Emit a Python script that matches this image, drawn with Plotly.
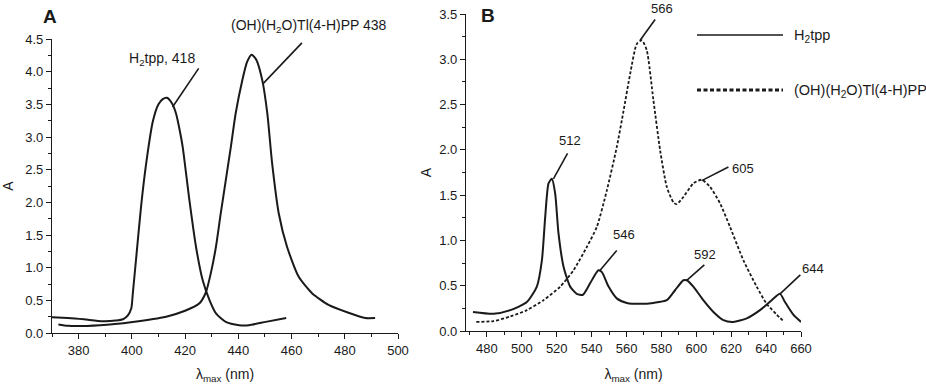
import plotly.graph_objects as go

# ---------------- data ----------------
# Panel A (Soret region)
a_h2tpp_nm = [370, 376, 382, 389, 394, 396.7, 398.5, 399.8, 400.4, 401.7, 403.5, 405.4, 407.9, 410.0,
              411.6, 413.2, 415.0, 416.6, 418.0, 419.1, 421.6, 424.1, 426.6, 429.1, 431.6, 435.3,
              440.3, 444, 450.3, 458]
a_h2tpp_abs = [0.24, 0.23, 0.21, 0.18, 0.19, 0.21, 0.27, 0.38, 0.62, 1.18, 1.95, 2.6, 3.24, 3.50,
               3.58, 3.60, 3.52, 3.36, 3.10, 2.85, 2.04, 1.32, 0.81, 0.51, 0.30, 0.17,
               0.12, 0.12, 0.17, 0.23]
a_tl_nm = [372.4, 376, 388, 400.3, 412.9, 420, 425.3, 427.8, 429.7, 431.6, 433.4, 435.3, 437.2,
           439.0, 441.5, 443.3, 445.0, 446.8, 449.0, 450.9, 452.7, 455.2, 458.3, 462.7, 467.7,
           473.9, 481.4, 487.7, 491.4]
a_tl_abs = [0.13, 0.11, 0.12, 0.17, 0.25, 0.34, 0.45, 0.62, 0.92, 1.32, 1.83, 2.34, 2.85,
            3.36, 3.87, 4.15, 4.26, 4.18, 3.87, 3.36, 2.6, 1.83, 1.32, 0.86, 0.61,
            0.43, 0.31, 0.23, 0.23]

# Panel B (Q-band region)
b_h2tpp_nm = [472, 483.8, 493.4, 502.9, 508.6, 511.5, 513.4, 515.3, 517.2, 519.1, 521, 523.9, 527.7,
              531.5, 535, 539.2, 543.9, 545.9, 549.7, 554.4, 560.2, 567.8, 575.4, 583.1, 587.8, 592.6,
              594.5, 598.3, 604, 609.8, 615.5, 621.2, 628.9, 636.5, 643.2, 648, 650.8, 655.6, 660]
b_h2tpp_abs = [0.21, 0.19, 0.23, 0.32, 0.49, 0.78, 1.26, 1.63, 1.68, 1.52, 1.08, 0.71, 0.49,
               0.41, 0.40, 0.53, 0.67, 0.65, 0.49, 0.36, 0.31, 0.30, 0.31, 0.34, 0.45, 0.56,
               0.56, 0.49, 0.34, 0.21, 0.12, 0.10, 0.14, 0.23, 0.34, 0.41, 0.32, 0.18, 0.10]
b_tl_nm = [473.9, 483.8, 493.4, 502.9, 512.4, 522, 529.6, 537.3, 543, 548.7, 554.4, 558.3, 562.1,
           565.9, 568.8, 571.6, 575.4, 579.3, 583.1, 586.9, 588.8, 592.6, 598.3, 603.1, 607.9,
           613.6, 619.3, 627, 634.6, 640.3, 646.1, 649.9]
b_tl_abs = [0.10, 0.11, 0.16, 0.23, 0.34, 0.49, 0.67, 0.93, 1.15, 1.55, 2.03, 2.43, 2.84,
            3.17, 3.21, 3.10, 2.55, 1.99, 1.59, 1.42, 1.40, 1.48, 1.63, 1.67, 1.59,
            1.41, 1.15, 0.78, 0.49, 0.30, 0.18, 0.11]

series_names = ["H<sub>2</sub>tpp", "(OH)(H<sub>2</sub>O)Tl(4-H)PP"]
a_labels = ["H<sub>2</sub>tpp, 418", "(OH)(H<sub>2</sub>O)Tl(4-H)PP 438"]
b_labels = ["512", "546", "566", "592", "605", "644"]

a_xticks = [380, 400, 420, 440, 460, 480, 500]
b_xticks = [480, 500, 520, 540, 560, 580, 600, 620, 640, 660]

# ---------------- layout geometry ----------------
FONT = "Liberation Sans, Arial, Helvetica, sans-serif"
INK = "#1a1a1a"
W, H = 926, 389

A_X = (52, 398, 370, 500)     # px left, px right, data min, data max
A_Y = (333, 39, 0, 4.5)       # px bottom, px top, data min, data max
B_X = (466, 801, 468, 660)
B_Y = (331, 14, 0, 3.5)


def px_x(p):
    return p / W


def px_y(p):
    return 1 - p / H


def to_px(v, ax):
    p0, p1, d0, d1 = ax
    return p0 + (v - d0) / (d1 - d0) * (p1 - p0)


fig = go.Figure()
line_solid = dict(color=INK, width=2, shape="spline", smoothing=0.6)
fig.add_trace(go.Scatter(x=a_h2tpp_nm, y=a_h2tpp_abs, mode="lines", line=line_solid,
                         xaxis="x", yaxis="y", showlegend=False, name="H2tpp"))
fig.add_trace(go.Scatter(x=a_tl_nm, y=a_tl_abs, mode="lines", line=line_solid,
                         xaxis="x", yaxis="y", showlegend=False, name="Tl"))
fig.add_trace(go.Scatter(x=b_h2tpp_nm, y=b_h2tpp_abs, mode="lines", line=line_solid,
                         xaxis="x2", yaxis="y2", showlegend=False, name="H2tpp"))
fig.add_trace(go.Scatter(x=b_tl_nm, y=b_tl_abs, mode="lines",
                         line=dict(color=INK, width=1.8, dash="3px,2px", shape="spline", smoothing=0.6),
                         xaxis="x2", yaxis="y2", showlegend=False, name="Tl"))

axis_common = dict(showgrid=False, zeroline=False, showline=True, linecolor=INK, linewidth=1.2,
                   ticks="outside", ticklen=5, tickwidth=1.2, tickcolor=INK, automargin=False,
                   tickfont=dict(family=FONT, size=13, color=INK),
                   minor=dict(ticks="outside", ticklen=3, tickwidth=1, tickcolor=INK))

fig.update_layout(
    width=W, height=H, margin=dict(l=0, r=0, t=0, b=0, autoexpand=False),
    paper_bgcolor="white", plot_bgcolor="white",
    font=dict(family=FONT, color=INK),
    xaxis=dict(axis_common, domain=[px_x(A_X[0]), px_x(A_X[1])], range=[A_X[2], A_X[3]],
               tickvals=a_xticks, minor=dict(axis_common["minor"], dtick=10, tick0=370),
               anchor="y", title=dict(text="λ<sub>max</sub> (nm)", font=dict(size=14), standoff=12)),
    yaxis=dict(axis_common, domain=[px_y(A_Y[0]), px_y(A_Y[1])], range=[A_Y[2], A_Y[3]], dtick=0.5,
               tickformat=".1f", minor=dict(axis_common["minor"], dtick=0.25), anchor="x",
               title=dict(text="A", font=dict(size=14), standoff=10)),
    xaxis2=dict(axis_common, domain=[px_x(B_X[0]), px_x(B_X[1])], range=[B_X[2], B_X[3]],
                tickvals=b_xticks, minor=dict(axis_common["minor"], dtick=10, tick0=470),
                anchor="y2", title=dict(text="λ<sub>max</sub> (nm)", font=dict(size=14), standoff=14)),
    yaxis2=dict(axis_common, domain=[px_y(B_Y[0]), px_y(B_Y[1])], range=[B_Y[2], B_Y[3]], dtick=0.5,
                tickformat=".1f", minor=dict(axis_common["minor"], dtick=0.25), anchor="x2",
                title=dict(text="A", font=dict(size=14), standoff=4)),
)

# leader lines: (start on curve, end, label centre) in data units of each panel
a_leaders = [((415.3, 3.46), (425.1, 4.05), (411.2, 4.19)),
             ((449.4, 3.82), (463.9, 4.44), (466.5, 4.70))]
b_leaders = [((518.1, 1.68), (526.2, 1.96), (527.7, 2.10)),
             ((544.9, 0.67), (554.4, 0.89), (558.6, 1.06)),
             ((567.8, 3.21), (576.4, 3.44), (580.6, 3.56)),
             ((594.5, 0.56), (604.6, 0.73), (605.0, 0.84)),
             ((603.1, 1.66), (618.4, 1.81), (626.6, 1.79)),
             ((648.0, 0.41), (659.6, 0.62), (666.7, 0.69))]


def add_leaders(labels, leaders, AX, AY, size):
    for txt, (p0, p1, pt) in zip(labels, leaders):
        fig.add_shape(type="line", xref="paper", yref="paper",
                      x0=px_x(to_px(p0[0], AX)), y0=px_y(to_px(p0[1], AY)),
                      x1=px_x(to_px(p1[0], AX)), y1=px_y(to_px(p1[1], AY)),
                      line=dict(color=INK, width=1.6))
        fig.add_annotation(x=px_x(to_px(pt[0], AX)), y=px_y(to_px(pt[1], AY)),
                           xref="paper", yref="paper", text=txt, showarrow=False,
                           xanchor="center", yanchor="middle",
                           font=dict(family=FONT, size=size, color=INK))


add_leaders(a_labels, a_leaders, A_X, A_Y, 14)
add_leaders(b_labels, b_leaders, B_X, B_Y, 13)

# manual legend in panel B
fig.add_shape(type="line", xref="paper", yref="paper", x0=px_x(697), x1=px_x(783),
              y0=px_y(35), y1=px_y(35), line=dict(color=INK, width=1.5))
fig.add_shape(type="line", xref="paper", yref="paper", x0=px_x(697), x1=px_x(783),
              y0=px_y(90), y1=px_y(90), line=dict(color=INK, width=3, dash="4px,2.5px"))
for i, yy in enumerate([35, 90]):
    fig.add_annotation(x=px_x(792), y=px_y(yy + 1), xref="paper", yref="paper", text=series_names[i],
                       showarrow=False, xanchor="left", yanchor="middle",
                       font=dict(family=FONT, size=14.5, color=INK))

# panel letters
fig.add_annotation(x=px_x(50), y=px_y(17), xref="paper", yref="paper", text="<b>A</b>",
                   showarrow=False, xanchor="center", yanchor="middle",
                   font=dict(family=FONT, size=19, color=INK))
fig.add_annotation(x=px_x(488), y=px_y(16), xref="paper", yref="paper", text="<b>B</b>",
                   showarrow=False, xanchor="center", yanchor="middle",
                   font=dict(family=FONT, size=19, color=INK))

fig.write_html("out.html", config={"displayModeBar": False},
               post_script="document.body.style.margin='0';document.body.style.overflow='hidden';")
